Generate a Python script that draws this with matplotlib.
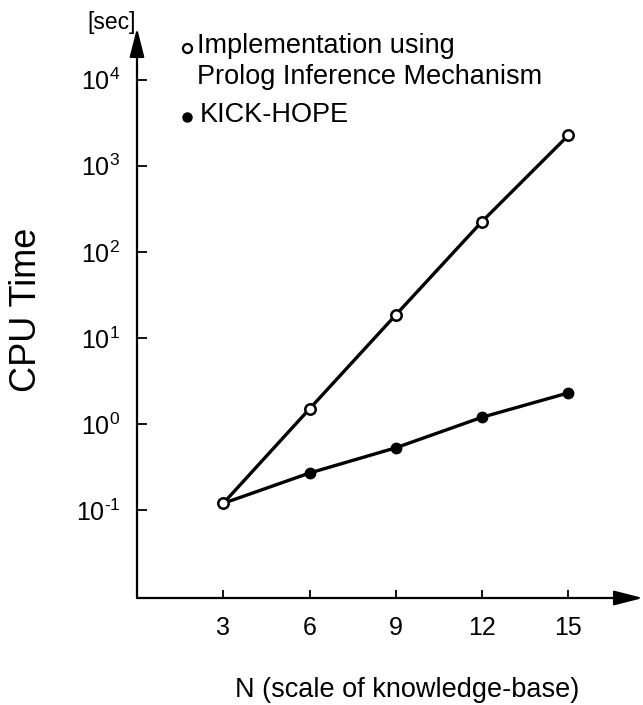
import matplotlib
matplotlib.use('Agg')
import matplotlib.pyplot as plt

#===========data===========
n_values = [3, 6, 9, 12, 15]
prolog_time = [0.12, 1.5, 18.5, 225, 2250]
kick_hope_time = [0.12, 0.27, 0.53, 1.2, 2.3]

x_ticks = [3, 6, 9, 12, 15]
y_ticks = [1e-1, 1e0, 1e1, 1e2, 1e3, 1e4]
y_tick_labels = [r'$10^{\text{-}1}$', r'$10^{0}$', r'$10^{1}$', r'$10^{2}$', r'$10^{3}$', r'$10^{4}$']

plt.rcParams['font.family'] = ['Liberation Sans', 'DejaVu Sans']
plt.rcParams['mathtext.fontset'] = 'custom'
plt.rcParams['mathtext.rm'] = 'Liberation Sans'
plt.rcParams['mathtext.it'] = 'Liberation Sans'
plt.rcParams['mathtext.default'] = 'rm'

fig = plt.figure(figsize=(6.43, 7.05), dpi=100)
ax = fig.add_axes([137/643, 1 - 598/705, 1 - 137/643, (598 - 28)/705])

ax.set_yscale('log')
ax.set_xlim(0, 17.6)
ax.set_ylim(10**-2.02, 10**4.6)

ax.plot(n_values, kick_hope_time, color='black', lw=2.4, marker='o', ms=7.5,
        mfc='black', mec='black', zorder=3)
ax.plot(n_values, prolog_time, color='black', lw=2.4, marker='o', ms=7.5,
        mfc='white', mec='black', mew=1.8, zorder=4)

# axes drawn as arrows
for s in ax.spines.values():
    s.set_visible(False)
arrow_style = '-|>,head_length=1.1,head_width=0.28'
ax.annotate('', xy=(0, 1), xytext=(0, 0), xycoords='axes fraction',
            arrowprops=dict(arrowstyle=arrow_style, color='black',
                            lw=1.6, mutation_scale=16, shrinkA=0, shrinkB=0))
ax.annotate('', xy=(1, 0), xytext=(0, 0), xycoords='axes fraction',
            arrowprops=dict(arrowstyle=arrow_style, color='black',
                            lw=1.6, mutation_scale=16, shrinkA=0, shrinkB=0))

ax.set_xticks(x_ticks)
ax.set_xticklabels([str(t) for t in x_ticks])
ax.set_yticks(y_ticks)
ax.set_yticklabels(y_tick_labels)
ax.minorticks_off()
ax.tick_params(axis='y', direction='in', length=7, width=1.3, pad=12, labelsize=18)
ax.tick_params(axis='x', direction='in', length=6, width=1.3, pad=13, labelsize=18)

fig.text(27/643, 1 - 310/705, 'CPU Time', rotation=90, fontsize=26,
         ha='center', va='center')
fig.text(407/643, 1 - 690/705, 'N (scale of knowledge-base)', fontsize=19.5,
         ha='center', va='center')
fig.text(112/643, 1 - 22/705, '[sec]', fontsize=16.5, ha='center', va='center')

# legend drawn by hand
ax.plot([187/643], [1 - 48/705], transform=fig.transFigure, marker='o', ms=6.5,
        mfc='white', mec='black', mew=1.6, clip_on=False)
fig.text(197/643, 1 - 46/705, 'Implementation using', fontsize=19.5,
         ha='left', va='center')
fig.text(197/643, 1 - 77/705, 'Prolog Inference Mechanism', fontsize=19.5,
         ha='left', va='center')
ax.plot([187/643], [1 - 117/705], transform=fig.transFigure, marker='o', ms=6.5,
        mfc='black', mec='black', clip_on=False)
fig.text(200/643, 1 - 115/705, 'KICK-HOPE', fontsize=19.5, ha='left', va='center')

fig.savefig('out.png', dpi=100)
